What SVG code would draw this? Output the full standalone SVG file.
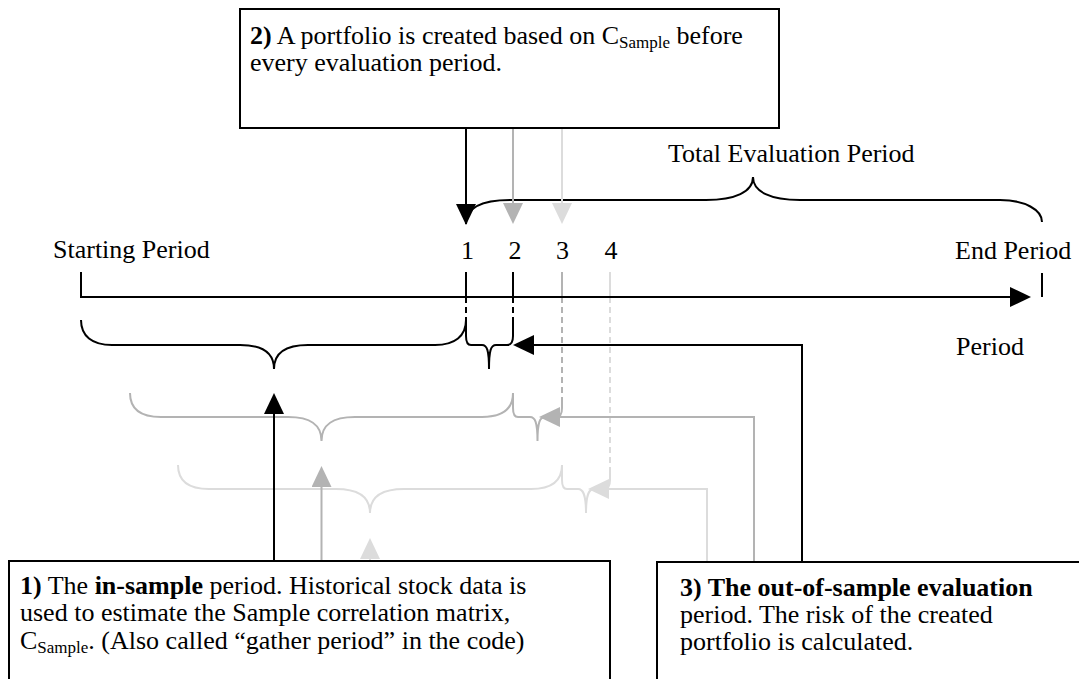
<svg xmlns="http://www.w3.org/2000/svg" width="1079" height="679" viewBox="0 0 1079 679">
<defs>
<style>
text{font-family:"Liberation Serif","Times New Roman",serif;font-size:26px;fill:#000}
.b{font-weight:bold}
.sub{font-size:17px}
.box{fill:#fff;stroke:#000;stroke-width:2}
.k{stroke:#000;stroke-width:2;fill:none}
.g{stroke:#b3b3b3;stroke-width:2;fill:none}
.l{stroke:#dcdcdc;stroke-width:2;fill:none}
.dash{stroke-dasharray:6 4}
</style>
<marker id="ak" markerUnits="userSpaceOnUse" markerWidth="22" markerHeight="20" refX="0" refY="10" orient="auto"><path d="M0,0L21,10L0,20z" fill="#000"/></marker>
<marker id="ag" markerUnits="userSpaceOnUse" markerWidth="22" markerHeight="20" refX="0" refY="10" orient="auto"><path d="M0,0L21,10L0,20z" fill="#b3b3b3"/></marker>
<marker id="al" markerUnits="userSpaceOnUse" markerWidth="22" markerHeight="20" refX="0" refY="10" orient="auto"><path d="M0,0L21,10L0,20z" fill="#dcdcdc"/></marker>
</defs>
<rect width="1079" height="679" fill="#fff"/>

<g id="axis">
<line class="k" x1="81" y1="272" x2="81" y2="297"/>
<line class="k" x1="1042" y1="273" x2="1042" y2="297"/>
<line class="k" x1="466" y1="272" x2="466" y2="297"/>
<line class="k" x1="513" y1="272" x2="513" y2="297"/>
<line class="g" x1="562" y1="272" x2="562" y2="297"/>
<line class="l" x1="610" y1="272" x2="610" y2="297"/>
<line class="k dash" x1="466" y1="297" x2="466" y2="320"/>
<line class="k dash" x1="513" y1="297" x2="513" y2="320"/>
<line class="g dash" x1="562" y1="297" x2="562" y2="400"/>
<line class="l dash" x1="610" y1="297" x2="610" y2="472"/>
<line class="k" x1="80" y1="297" x2="1010" y2="297" marker-end="url(#ak)"/>
</g>

<g id="labels">
<text x="53" y="258">Starting Period</text>
<text x="461" y="259">1</text>
<text x="508.5" y="259">2</text>
<text x="556" y="259">3</text>
<text x="604.5" y="259">4</text>
<text x="955" y="259">End Period</text>
<text x="956" y="355">Period</text>
<text x="668" y="162">Total Evaluation Period</text>
</g>

<g id="brackets">
<path class="k" d="M466,224 C466,210 478,200 510,200 L706,200 C735,200 753,192 753,177 C753,192 771,200 800,200 L1000,200 C1025,200 1042,210 1042,222"/>
<path class="k" d="M81,320 C81,336 92,345 112,345 L240,345 C262,345 274,352 274,369 C274,352 286,345 308,345 L435,345 C455,345 466,336 466,320"/>
<path class="g" d="M130,393 C130,409 141,417 161,417 L288,417 C310,417 321.5,424 321.5,441 C321.5,424 333,417 355,417 L482,417 C502,417 513,409 513,393"/>
<path class="l" d="M178,465 C178,481 189,489 209,489 L336,489 C358,489 370,496 370,513 C370,496 382,489 404,489 L531,489 C551,489 562,481 562,465"/>
<path class="k" d="M466,320 L466,336 C466,342 467,345 471,345 L482,345 C487,345 489,350 489,369 C489,350 491,345 496,345 L507,345 C511,345 513,342 513,336 L513,320"/>
<path class="g" d="M513,393 L513,408 C513,414 514,417 518,417 L530,417 C535,417 537.5,422 537.5,441 C537.5,422 540,417 545,417 L556,417 C560,417 562,414 562,408 L562,398"/>
<path class="l" d="M562,465 L562,480 C562,486 563,489 567,489 L578,489 C583,489 586,494 586,513 C586,494 589,489 594,489 L604,489 C608,489 610,486 610,480 L610,470"/>
</g>

<g id="connectors">
<line class="k" x1="466" y1="128" x2="466" y2="204" marker-end="url(#ak)"/>
<line class="g" x1="513" y1="128" x2="513" y2="203" marker-end="url(#ag)"/>
<line class="l" x1="562" y1="128" x2="562" y2="203" marker-end="url(#al)"/>
<line class="k" x1="274" y1="561" x2="274" y2="414" marker-end="url(#ak)"/>
<line class="g" x1="321.5" y1="561" x2="321.5" y2="487" marker-end="url(#ag)"/>
<line class="l" x1="370" y1="561" x2="370" y2="559" marker-end="url(#al)"/>
<polyline class="k" points="802,562 802,345 534,345" marker-end="url(#ak)"/>
<polyline class="g" points="754,562 754,417 560,417" marker-end="url(#ag)"/>
<polyline class="l" points="707,562 707,489 609,489" marker-end="url(#al)"/>
</g>

<g id="box2">
<rect class="box" x="240" y="9" width="539" height="119"/>
<text x="250" y="44"><tspan class="b">2)</tspan> A portfolio is created based on C<tspan class="sub" dy="4">Sample</tspan><tspan dy="-4"> before</tspan></text>
<text x="250" y="71">every evaluation period.</text>
</g>

<g id="box1">
<rect class="box" x="9" y="561" width="601" height="140"/>
<text x="20" y="594"><tspan class="b">1)</tspan> The <tspan class="b">in-sample</tspan> period. Historical stock data is</text>
<text x="20" y="621">used to estimate the Sample correlation matrix,</text>
<text x="20" y="649">C<tspan class="sub" dy="4">Sample</tspan><tspan dy="-4">. (Also called “gather period” in the code)</tspan></text>
</g>

<g id="box3">
<rect class="box" x="657" y="562" width="440" height="140"/>
<text x="680" y="596" class="b">3) The out-of-sample evaluation</text>
<text x="680" y="623">period. The risk of the created</text>
<text x="680" y="650">portfolio is calculated.</text>
</g>
</svg>
